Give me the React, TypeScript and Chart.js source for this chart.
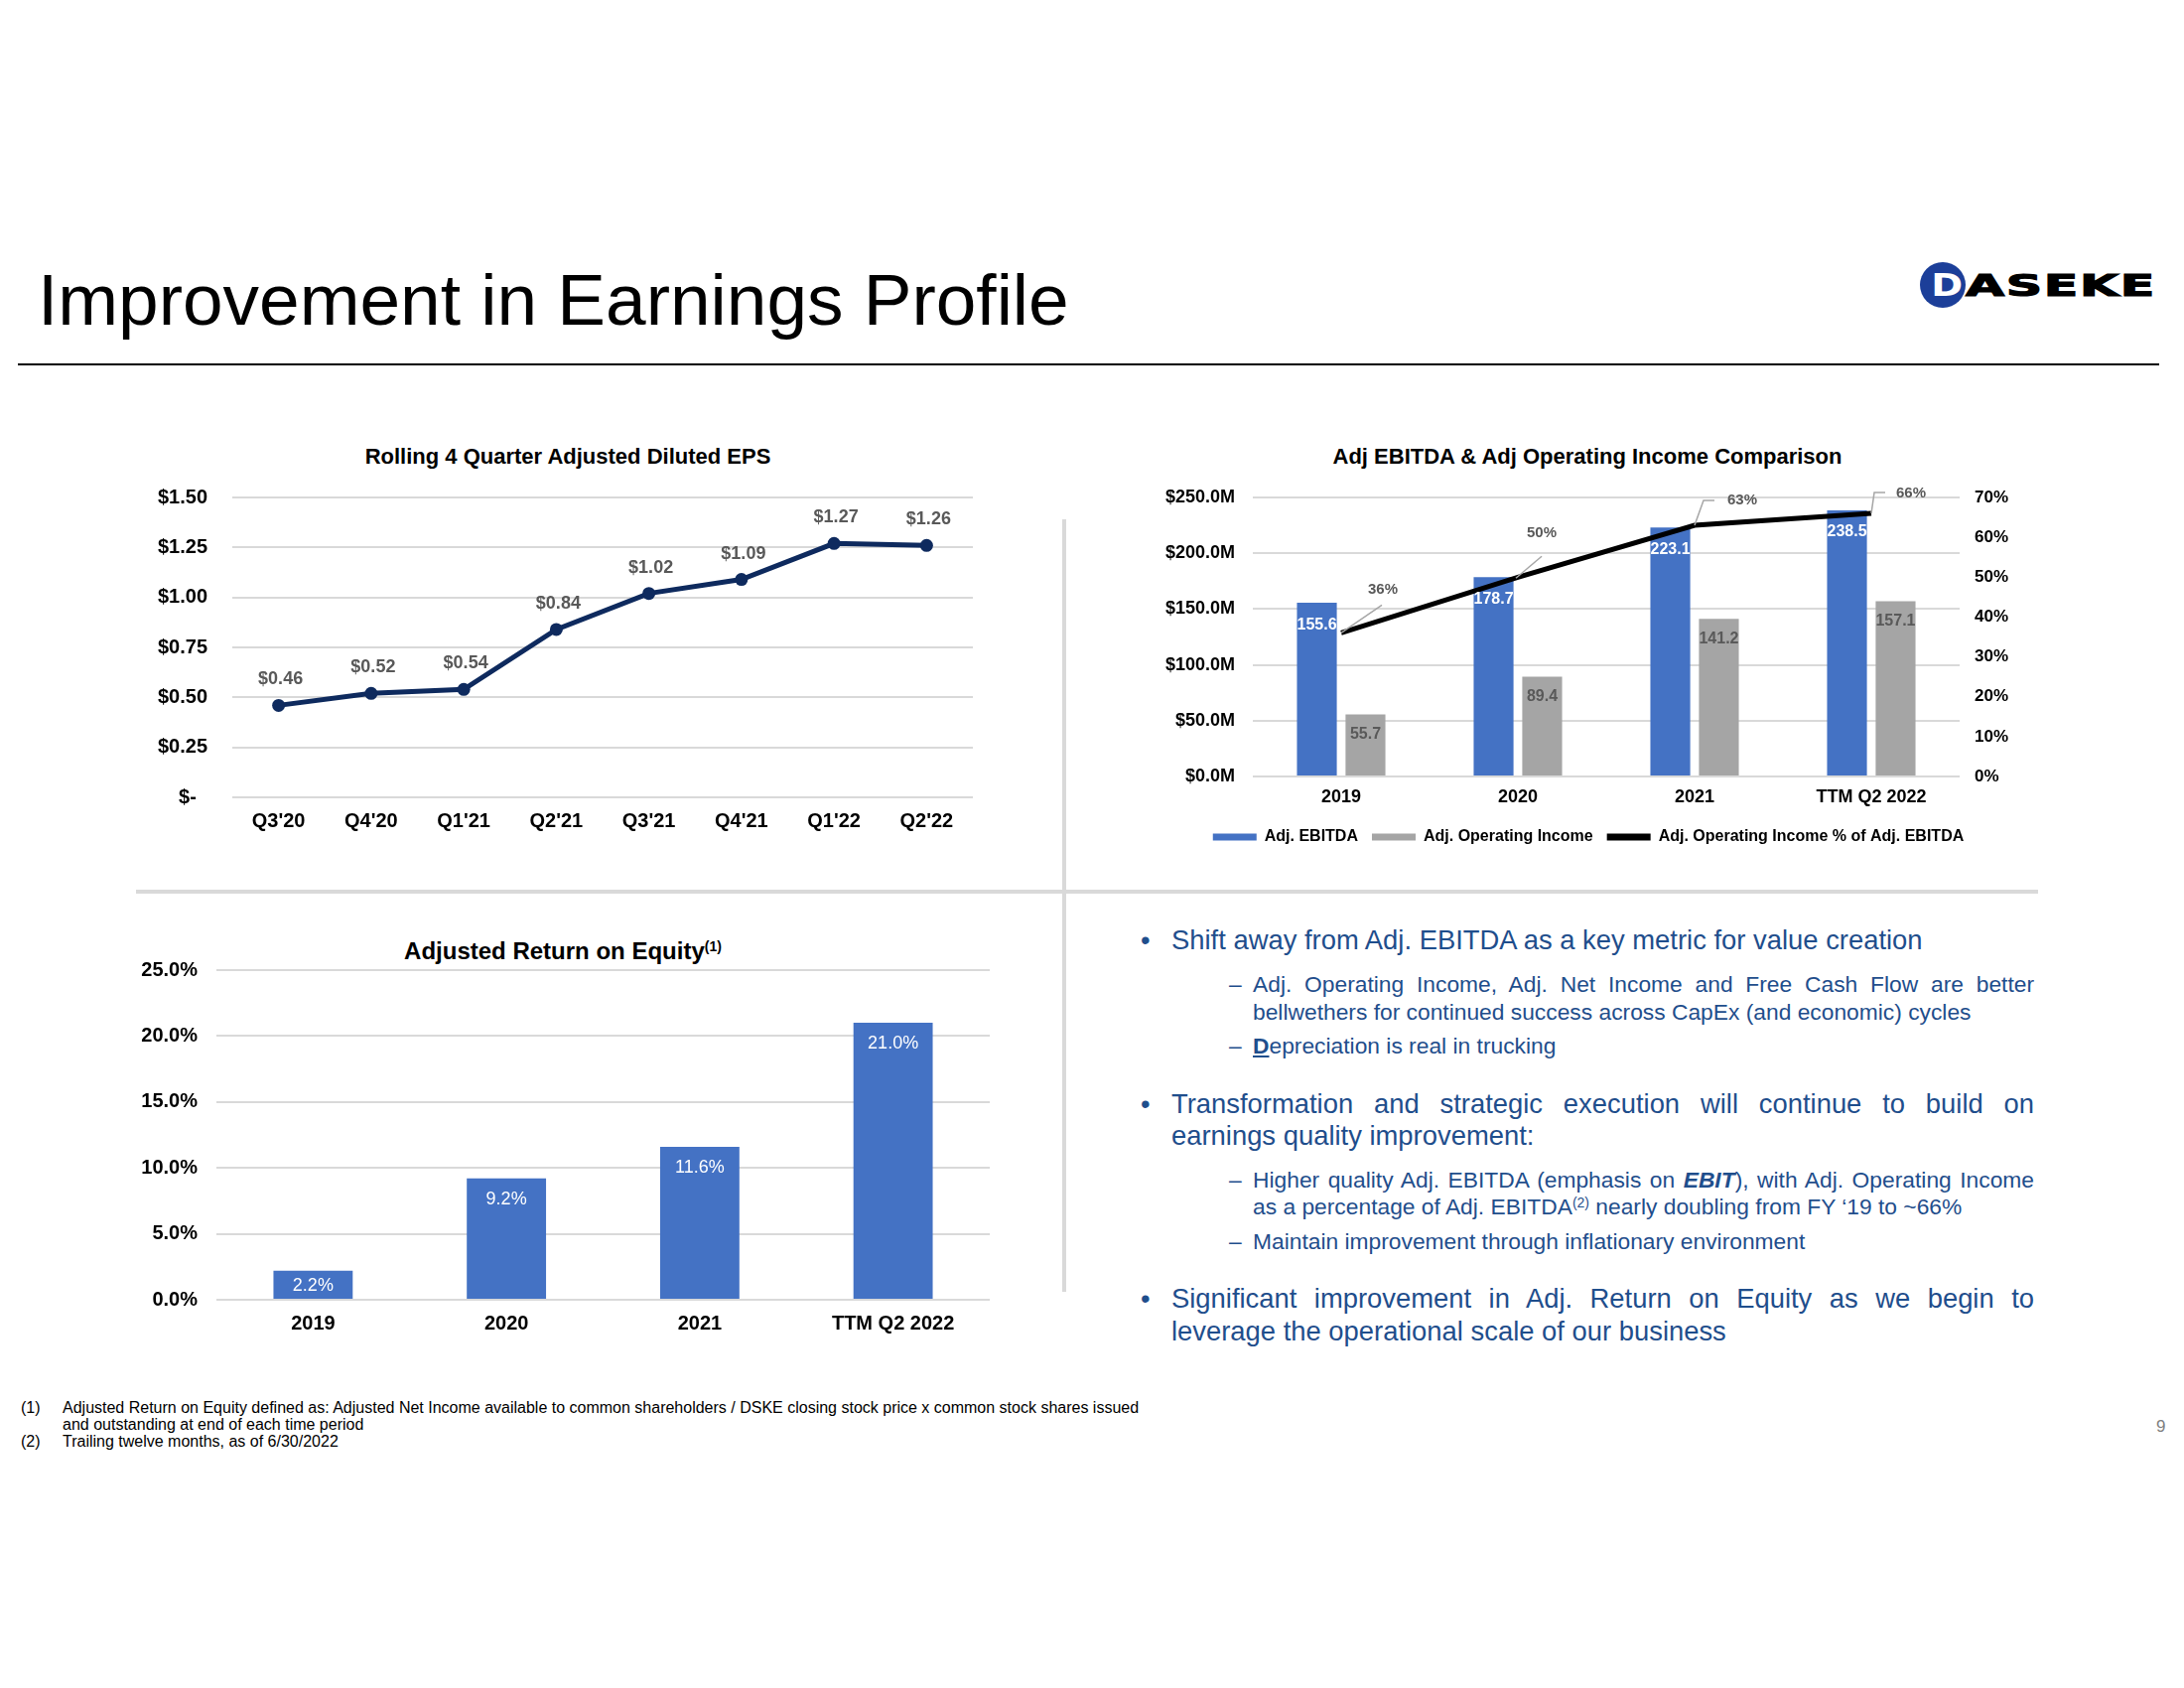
import React, { useEffect, useRef } from 'react';
import { Chart, registerables } from 'chart.js';

Chart.register(...registerables);

const FONT = "'Liberation Sans', Arial, Helvetica, sans-serif";
Chart.defaults.font.family = FONT;

// ---------- Data: Rolling 4 Quarter Adjusted Diluted EPS ----------
const epsQuarters = ["Q3'20", "Q4'20", "Q1'21", "Q2'21", "Q3'21", "Q4'21", "Q1'22", "Q2'22"];
const epsValues = [0.46, 0.52, 0.54, 0.84, 1.02, 1.09, 1.27, 1.26];
const epsAxisMin = 0;
const epsAxisMax = 1.5;
const epsAxisStep = 0.25;

// ---------- Data: Adj EBITDA & Adj Operating Income ----------
const ebitdaPeriods = ['2019', '2020', '2021', 'TTM Q2 2022'];
const adjEbitda = [155.6, 178.7, 223.1, 238.5];
const adjOperatingIncome = [55.7, 89.4, 141.2, 157.1];
const opIncomePctOfEbitda = [36, 50, 63, 66];
const ebitdaAxisMax = 250;
const ebitdaAxisStep = 50;
const pctAxisMax = 70;
const pctAxisStep = 10;

// ---------- Data: Adjusted Return on Equity ----------
const roePeriods = ['2019', '2020', '2021', 'TTM Q2 2022'];
const roeValues = [2.2, 9.2, 11.6, 21.0];
const roeAxisMax = 25;
const roeAxisStep = 5;

// ---------- Styles ----------
const NAVY = '#0e2a5e';
const BLUE = '#4472C4';
const GRAY = '#A5A5A5';
const GRID = '#d9d9d9';
const LABEL_GRAY = '#595959';
const TEXT_BLUE = '#1f4e8c';

// fixed axis sizes (so the plot areas line up with the slide layout)
const fixWidth = (w: number) => (scale: any) => {
  scale.width = w;
  scale.paddingTop = 0;
  scale.paddingBottom = 0;
};
const fixHeight = (h: number) => (scale: any) => {
  scale.height = h;
};

// leader-line / label placement for the % labels (relative to the data point)
const pctLabelPlacement = [
  { label: [42, -44], leader: [[0, 0], [41, -28]] },
  { label: [24, -44], leader: [[-2, 1], [24, -21]] },
  { label: [48, -25], leader: [[0, 0], [9, -25], [20, -25]] },
  { label: [40, -20], leader: [[0, 0], [3, -21], [14, -21]] },
];

function EpsChart() {
  const ref = useRef<HTMLCanvasElement | null>(null);
  useEffect(() => {
    const labelPlugin = {
      id: 'epsLabels',
      afterDatasetsDraw(chart: any) {
        const ctx = chart.ctx;
        const meta = chart.getDatasetMeta(0);
        ctx.save();
        ctx.font = `bold 18px ${FONT}`;
        ctx.fillStyle = LABEL_GRAY;
        ctx.textAlign = 'center';
        ctx.textBaseline = 'middle';
        meta.data.forEach((pt: any, i: number) => {
          ctx.fillText('$' + epsValues[i].toFixed(2), pt.x + 2, pt.y - 26);
        });
        ctx.restore();
      },
    };
    const chart = new Chart(ref.current as HTMLCanvasElement, {
      type: 'line',
      data: {
        labels: epsQuarters,
        datasets: [
          {
            label: 'Rolling 4 Quarter Adjusted Diluted EPS',
            data: epsValues,
            borderColor: NAVY,
            backgroundColor: NAVY,
            borderWidth: 5,
            pointRadius: 6.5,
            pointBackgroundColor: NAVY,
            pointBorderWidth: 0,
            tension: 0,
          },
        ],
      },
      options: {
        animation: false,
        responsive: false,
        layout: { padding: { top: 21, right: 30, left: 0, bottom: 0 } },
        plugins: { legend: { display: false }, tooltip: { enabled: false } },
        scales: {
          x: {
            offset: true,
            grid: { display: false, drawTicks: false },
            border: { display: false },
            ticks: { color: '#000', font: { size: 20, weight: 'bold' }, padding: 12, maxRotation: 0 },
            afterFit: fixHeight(57),
          },
          y: {
            min: epsAxisMin,
            max: epsAxisMax,
            ticks: {
              stepSize: epsAxisStep,
              color: '#000',
              font: { size: 20, weight: 'bold' },
              padding: 25,
              callback: (v: any) => (Number(v) === 0 ? '$-  ' : '$' + Number(v).toFixed(2)),
            },
            grid: { color: GRID, lineWidth: 2, drawTicks: false },
            border: { display: false },
            afterFit: fixWidth(104),
          },
        },
      } as any,
      plugins: [labelPlugin],
    });
    return () => chart.destroy();
  }, []);
  return <canvas ref={ref} width={880} height={380} style={{ position: 'absolute', left: 130, top: 480 }} />;
}

function EbitdaChart() {
  const ref = useRef<HTMLCanvasElement | null>(null);
  useEffect(() => {
    const labelPlugin = {
      id: 'ebitdaLabels',
      afterDatasetsDraw(chart: any) {
        const ctx = chart.ctx;
        ctx.save();
        ctx.textAlign = 'center';
        ctx.textBaseline = 'middle';
        ctx.font = `bold 16px ${FONT}`;
        chart.getDatasetMeta(0).data.forEach((bar: any, i: number) => {
          ctx.fillStyle = '#ffffff';
          ctx.fillText(adjEbitda[i].toFixed(1), bar.x, bar.y + 22);
        });
        chart.getDatasetMeta(1).data.forEach((bar: any, i: number) => {
          ctx.fillStyle = LABEL_GRAY;
          ctx.fillText(adjOperatingIncome[i].toFixed(1), bar.x, bar.y + 20);
        });
        const lineMeta = chart.getDatasetMeta(2);
        ctx.font = `bold 15px ${FONT}`;
        lineMeta.data.forEach((pt: any, i: number) => {
          const p = pctLabelPlacement[i];
          ctx.strokeStyle = '#a6a6a6';
          ctx.lineWidth = 1.5;
          ctx.beginPath();
          p.leader.forEach((q, k) => {
            if (k === 0) ctx.moveTo(pt.x + q[0], pt.y + q[1]);
            else ctx.lineTo(pt.x + q[0], pt.y + q[1]);
          });
          ctx.stroke();
          ctx.fillStyle = LABEL_GRAY;
          ctx.fillText(opIncomePctOfEbitda[i] + '%', pt.x + p.label[0], pt.y + p.label[1]);
        });
        ctx.restore();
      },
    };
    const chart = new Chart(ref.current as HTMLCanvasElement, {
      type: 'bar',
      data: {
        labels: ebitdaPeriods,
        datasets: [
          {
            type: 'bar',
            label: 'Adj. EBITDA',
            data: adjEbitda,
            backgroundColor: BLUE,
            yAxisID: 'y',
            order: 2,
            categoryPercentage: 0.55,
            barPercentage: 0.82,
          },
          {
            type: 'bar',
            label: 'Adj. Operating Income',
            data: adjOperatingIncome,
            backgroundColor: GRAY,
            yAxisID: 'y',
            order: 2,
            categoryPercentage: 0.55,
            barPercentage: 0.82,
          },
          {
            type: 'line',
            label: 'Adj. Operating Income % of Adj. EBITDA',
            data: opIncomePctOfEbitda,
            borderColor: '#000',
            backgroundColor: '#000',
            borderWidth: 5,
            pointRadius: 0,
            tension: 0,
            yAxisID: 'y1',
            order: 1,
          },
        ],
      },
      options: {
        animation: false,
        responsive: false,
        layout: { padding: { top: 21, right: 0, left: 0, bottom: 0 } },
        plugins: {
          tooltip: { enabled: false },
          legend: {
            position: 'bottom',
            labels: {
              color: '#000',
              font: { size: 16, weight: 'bold' },
              boxWidth: 44,
              boxHeight: 7,
              padding: 14,
              generateLabels: (c: any) =>
                c.data.datasets.map((ds: any, i: number) => ({
                  text: ds.label,
                  fillStyle: ds.backgroundColor,
                  strokeStyle: ds.backgroundColor,
                  lineWidth: 0,
                  hidden: false,
                  datasetIndex: i,
                  fontColor: '#000',
                })),
            },
          },
        },
        scales: {
          x: {
            grid: { display: false, drawTicks: false },
            border: { display: false },
            ticks: { color: '#000', font: { size: 18, weight: 'bold' }, padding: 10, maxRotation: 0 },
            afterFit: fixHeight(39),
          },
          y: {
            position: 'left',
            min: 0,
            max: ebitdaAxisMax,
            ticks: {
              stepSize: ebitdaAxisStep,
              color: '#000',
              font: { size: 18, weight: 'bold' },
              padding: 18,
              callback: (v: any) => '$' + Number(v).toFixed(1) + 'M',
            },
            grid: { color: GRID, lineWidth: 2, drawTicks: false },
            border: { display: false },
            afterFit: fixWidth(112),
          },
          y1: {
            position: 'right',
            min: 0,
            max: pctAxisMax,
            ticks: {
              stepSize: pctAxisStep,
              color: '#000',
              font: { size: 17, weight: 'bold' },
              padding: 15,
              callback: (v: any) => Number(v) + '%',
            },
            grid: { display: false, drawTicks: false },
            border: { display: false },
            afterFit: fixWidth(76),
          },
        },
      } as any,
      plugins: [labelPlugin],
    });
    return () => chart.destroy();
  }, []);
  return <canvas ref={ref} width={900} height={381} style={{ position: 'absolute', left: 1150, top: 480 }} />;
}

function RoeChart() {
  const ref = useRef<HTMLCanvasElement | null>(null);
  useEffect(() => {
    const labelPlugin = {
      id: 'roeLabels',
      afterDatasetsDraw(chart: any) {
        const ctx = chart.ctx;
        ctx.save();
        ctx.textAlign = 'center';
        ctx.textBaseline = 'middle';
        ctx.font = `18px ${FONT}`;
        ctx.fillStyle = '#ffffff';
        chart.getDatasetMeta(0).data.forEach((bar: any, i: number) => {
          const y = Math.min(bar.y + 21, (bar.y + bar.base) / 2 + 1.5);
          ctx.fillText(roeValues[i].toFixed(1) + '%', bar.x, y);
        });
        ctx.restore();
      },
    };
    const chart = new Chart(ref.current as HTMLCanvasElement, {
      type: 'bar',
      data: {
        labels: roePeriods,
        datasets: [
          {
            label: 'Adjusted Return on Equity',
            data: roeValues,
            backgroundColor: BLUE,
            categoryPercentage: 1,
            barPercentage: 0.41,
          },
        ],
      },
      options: {
        animation: false,
        responsive: false,
        layout: { padding: { top: 17, right: 13, left: 0, bottom: 0 } },
        plugins: { legend: { display: false }, tooltip: { enabled: false } },
        scales: {
          x: {
            grid: { display: false, drawTicks: false },
            border: { display: false },
            ticks: { color: '#000', font: { size: 20, weight: 'bold' }, padding: 12, maxRotation: 0 },
            afterFit: fixHeight(51),
          },
          y: {
            min: 0,
            max: roeAxisMax,
            ticks: {
              stepSize: roeAxisStep,
              color: '#000',
              font: { size: 20, weight: 'bold' },
              padding: 19,
              callback: (v: any) => Number(v).toFixed(1) + '%',
            },
            grid: { color: GRID, lineWidth: 2, drawTicks: false },
            border: { display: false },
            afterFit: fixWidth(88),
          },
        },
      } as any,
      plugins: [labelPlugin],
    });
    return () => chart.destroy();
  }, []);
  return <canvas ref={ref} width={880} height={400} style={{ position: 'absolute', left: 130, top: 960 }} />;
}

type LineProps = {
  left: number;
  width?: number;
  cy: number;
  size: number;
  justify?: boolean;
  children: React.ReactNode;
};

function TextLine({ left, width = 900, cy, size, justify, children }: LineProps) {
  const lh = Math.round(size * 1.25);
  return (
    <div
      style={{
        position: 'absolute',
        left,
        top: cy - lh / 2,
        width,
        height: lh,
        lineHeight: lh + 'px',
        fontSize: size,
        fontFamily: FONT,
        color: TEXT_BLUE,
        textAlign: justify ? 'justify' : 'left',
        textAlignLast: justify ? 'justify' : 'left',
        whiteSpace: 'normal',
      } as React.CSSProperties}
    >
      {children}
    </div>
  );
}

const B_SIZE = 27.4;
const S_SIZE = 22.8;
const B_LEFT = 1180;
const B_WIDTH = 869;
const S_LEFT = 1262;
const S_WIDTH = 787;

function Bullets() {
  const bullet = (cy: number) => (
    <TextLine left={1149} width={20} cy={cy} size={B_SIZE}>
      •
    </TextLine>
  );
  const dash = (cy: number) => (
    <TextLine left={1238} width={20} cy={cy} size={S_SIZE}>
      –
    </TextLine>
  );
  return (
    <>
      {bullet(947)}
      <TextLine left={B_LEFT} width={B_WIDTH} cy={947} size={B_SIZE}>
        Shift away from Adj. EBITDA as a key metric for value creation
      </TextLine>
      {dash(991)}
      <TextLine left={S_LEFT} width={S_WIDTH} cy={991} size={S_SIZE} justify>
        Adj. Operating Income, Adj. Net Income and Free Cash Flow are better
      </TextLine>
      <TextLine left={S_LEFT} width={S_WIDTH} cy={1019} size={S_SIZE}>
        bellwethers for continued success across CapEx (and economic) cycles
      </TextLine>
      {dash(1053)}
      <TextLine left={S_LEFT} width={S_WIDTH} cy={1053} size={S_SIZE}>
        <b style={{ textDecoration: 'underline' }}>D</b>epreciation is real in trucking
      </TextLine>

      {bullet(1112)}
      <TextLine left={B_LEFT} width={B_WIDTH} cy={1112} size={B_SIZE} justify>
        Transformation and strategic execution will continue to build on
      </TextLine>
      <TextLine left={B_LEFT} width={B_WIDTH} cy={1144} size={B_SIZE}>
        earnings quality improvement:
      </TextLine>
      {dash(1188)}
      <TextLine left={S_LEFT} width={S_WIDTH} cy={1188} size={S_SIZE} justify>
        Higher quality Adj. EBITDA (emphasis on <b><i>EBIT</i></b>), with Adj. Operating Income
      </TextLine>
      <TextLine left={S_LEFT} width={S_WIDTH} cy={1215} size={S_SIZE}>
        as a percentage of Adj. EBITDA
        <sup style={{ fontSize: 14, verticalAlign: 'top', lineHeight: '20px' }}>(2)</sup> nearly doubling from FY ‘19 to ~66%
      </TextLine>
      {dash(1250)}
      <TextLine left={S_LEFT} width={S_WIDTH} cy={1250} size={S_SIZE}>
        Maintain improvement through inflationary environment
      </TextLine>

      {bullet(1308)}
      <TextLine left={B_LEFT} width={B_WIDTH} cy={1308} size={B_SIZE} justify>
        Significant improvement in Adj. Return on Equity as we begin to
      </TextLine>
      <TextLine left={B_LEFT} width={B_WIDTH} cy={1341} size={B_SIZE}>
        leverage the operational scale of our business
      </TextLine>
    </>
  );
}

function ChartTitle({ cx, cy, size, children }: { cx: number; cy: number; size: number; children: React.ReactNode }) {
  const lh = Math.round(size * 1.2);
  return (
    <div
      style={{
        position: 'absolute',
        left: cx - 400,
        width: 800,
        top: cy - lh / 2,
        lineHeight: lh + 'px',
        fontSize: size,
        fontWeight: 'bold',
        fontFamily: FONT,
        color: '#000',
        textAlign: 'center',
        whiteSpace: 'nowrap',
      }}
    >
      {children}
    </div>
  );
}

function Logo() {
  return (
    <div style={{ position: 'absolute', left: 1934, top: 264, height: 46, width: 260 }}>
      <div
        style={{
          position: 'absolute',
          left: 0,
          top: 0,
          width: 46,
          height: 46,
          borderRadius: '50%',
          background: '#1c3f99',
          color: '#fff',
          fontFamily: "'DejaVu Sans', sans-serif",
          fontWeight: 'bold',
          fontSize: 32,
          lineHeight: '46px',
          textAlign: 'center',
        }}
      >
        <span style={{ display: 'inline-block', transform: 'translateX(4px) scaleX(1.2)' }}>D</span>
      </div>
      <div
        style={{
          position: 'absolute',
          left: 46,
          top: 0,
          height: 46,
          lineHeight: '46px',
          fontFamily: "'DejaVu Sans', sans-serif",
          fontWeight: 'bold',
          fontSize: 31,
          color: '#000',
          letterSpacing: 1,
          transform: 'scaleX(1.63)',
          transformOrigin: 'left center',
          whiteSpace: 'nowrap',
          WebkitTextStroke: '1.2px #000',
        } as React.CSSProperties}
      >
        ASEKE
      </div>
    </div>
  );
}

export default function App() {
  return (
    <div
      style={{
        position: 'absolute',
        left: 0,
        top: 0,
        width: 2200,
        height: 1700,
        background: '#fff',
        overflow: 'hidden',
        fontFamily: FONT,
      }}
    >
      <div
        style={{
          position: 'absolute',
          left: 38,
          top: 265,
          fontSize: 73,
          lineHeight: '73px',
          fontFamily: FONT,
          color: '#000',
          whiteSpace: 'nowrap',
        }}
      >
        Improvement in Earnings Profile
      </div>
      <Logo />
      <div style={{ position: 'absolute', left: 18, top: 366, width: 2157, height: 2, background: '#000' }} />

      {/* quadrant dividers */}
      <div style={{ position: 'absolute', left: 1070, top: 523, width: 4, height: 778, background: GRID }} />
      <div style={{ position: 'absolute', left: 137, top: 896, width: 1916, height: 4, background: GRID }} />

      <ChartTitle cx={572} cy={460} size={22}>
        Rolling 4 Quarter Adjusted Diluted EPS
      </ChartTitle>
      <EpsChart />

      <ChartTitle cx={1599} cy={460} size={22}>
        Adj EBITDA &amp; Adj Operating Income Comparison
      </ChartTitle>
      <EbitdaChart />

      <ChartTitle cx={567} cy={957} size={24}>
        Adjusted Return on Equity
        <sup style={{ fontSize: 14, verticalAlign: 'top', lineHeight: '20px' }}>(1)</sup>
      </ChartTitle>
      <RoeChart />

      <Bullets />

      {/* footnotes */}
      <div style={{ position: 'absolute', left: 21, top: 1409, fontSize: 16, lineHeight: '17px', fontFamily: FONT, color: '#000' }}>
        (1)
      </div>
      <div style={{ position: 'absolute', left: 63, top: 1409, fontSize: 16, lineHeight: '17px', fontFamily: FONT, color: '#000', whiteSpace: 'nowrap' }}>
        Adjusted Return on Equity defined as: Adjusted Net Income available to common shareholders / DSKE closing stock price x common stock shares issued
        <br />
        and outstanding at end of each time period
      </div>
      <div style={{ position: 'absolute', left: 21, top: 1443, fontSize: 16, lineHeight: '17px', fontFamily: FONT, color: '#000' }}>
        (2)
      </div>
      <div style={{ position: 'absolute', left: 63, top: 1443, fontSize: 16, lineHeight: '17px', fontFamily: FONT, color: '#000', whiteSpace: 'nowrap' }}>
        Trailing twelve months, as of 6/30/2022
      </div>

      <div style={{ position: 'absolute', left: 2172, top: 1427, fontSize: 17, lineHeight: '20px', fontFamily: FONT, color: '#808080' }}>
        9
      </div>
    </div>
  );
}
